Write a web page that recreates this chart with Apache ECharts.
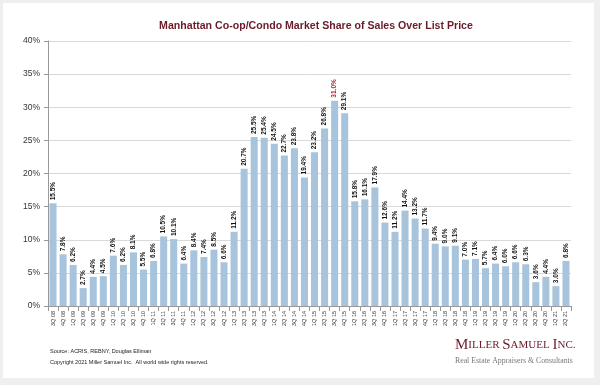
<!DOCTYPE html>
<html><head><meta charset="utf-8">
<script src="https://cdn.jsdelivr.net/npm/echarts@6/dist/echarts.min.js"></script>
<style>html,body{margin:0;padding:0;background:#efefef}#c{width:600px;height:385px}</style>
</head><body><div id="c"></div>
<script>
const categories = ["3Q 08","4Q 08","1Q 09","2Q 09","3Q 09","4Q 09","1Q 10","2Q 10","3Q 10","4Q 10","1Q 11","2Q 11","3Q 11","4Q 11","1Q 12","2Q 12","3Q 12","4Q 12","1Q 13","2Q 13","3Q 13","4Q 13","1Q 14","2Q 14","3Q 14","4Q 14","1Q 15","2Q 15","3Q 15","4Q 15","1Q 16","2Q 16","3Q 16","4Q 16","1Q 17","2Q 17","3Q 17","4Q 17","1Q 18","2Q 18","3Q 18","4Q 18","1Q 19","2Q 19","3Q 19","4Q 19","1Q 20","2Q 20","3Q 20","4Q 20","1Q 21","2Q 21"];
const shareOverList = [15.5,7.8,6.2,2.7,4.4,4.5,7.6,6.2,8.1,5.5,6.8,10.5,10.1,6.4,8.4,7.4,8.5,6.6,11.2,20.7,25.5,25.4,24.5,22.7,23.8,19.4,23.2,26.8,31.0,29.1,15.8,16.1,17.9,12.6,11.2,14.4,13.2,11.7,9.4,9.0,9.1,7.0,7.1,5.7,6.4,6.0,6.6,6.3,3.6,4.4,3.0,6.8];
const highlightIndex = shareOverList.indexOf(Math.max(...shareOverList));

const chart = echarts.init(document.getElementById('c'));
chart.setOption({
  backgroundColor: '#efefef',
  animation: false,
  graphic: [
    {type:'rect', shape:{x:3,y:3,width:591,height:375}, style:{fill:'#ffffff'}, z:-10},
    {type:'text', left:50, top:348, style:{text:'Source: ACRIS, REBNY, Douglas Elliman', font:'5.5px Arial', fill:'#222'}},
    {type:'text', left:50, top:359, style:{text:'Copyright 2021 Miller Samuel Inc.  All world wide rights reserved.', font:'5.5px Arial', fill:'#222'}},
    {type:'text', left:455, top:338, style:{rich:{a:{font:'15px "Liberation Serif", serif', fill:'#6b1c2c'},b:{font:'11px "Liberation Serif", serif', fill:'#6b1c2c'}}, text:'{a|M}{b|ILLER }{a|S}{b|AMUEL }{a|I}{b|NC.}'}},
    {type:'text', left:455, top:357, style:{text:'Real Estate Appraisers & Consultants', font:'7.8px "Liberation Serif", serif', fill:'#777'}}
  ],
  title: {
    text: 'Manhattan Co-op/Condo Market Share of Sales Over List Price',
    left: 311, textAlign: 'center', top: 16,
    textStyle: {fontFamily:'Arial', fontSize: 10.6, fontWeight:'bold', color:'#6b1a2a'}
  },
  grid: {left: 48, right: 29, top: 41, bottom: 79},
  xAxis: {
    type: 'category', data: categories,
    axisLine: {lineStyle:{color:'#999'}},
    axisTick: {show:true, alignWithLabel:false, lineStyle:{color:'#999'}},
    axisLabel: {rotate: 90, fontSize: 5.5, color:'#333', fontFamily:'Arial', interval:0, margin:5}
  },
  yAxis: {
    type: 'value', min: 0, max: 40, interval: 5,
    axisLine: {show:true, lineStyle:{color:'#999'}},
    axisTick: {show:true, length:4, lineStyle:{color:'#999'}},
    splitLine: {lineStyle:{color:'#d9d9d9'}},
    axisLabel: {formatter: '{value}%', fontSize: 8.5, color:'#333', fontFamily:'Arial', margin:8}
  },
  series: [{
    type: 'bar',
    data: shareOverList.map((v,i)=> i===highlightIndex ? {value:v, label:{color:'#b0202a'}} : v),
    barCategoryGap: '30%',
    itemStyle: {color: '#a8c4dc'},
    label: {
      show: true, position: 'top', rotate: 90, align: 'left', verticalAlign: 'middle',
      distance: 3, fontSize: 6.5, fontWeight: 'bold', fontFamily:'Arial', color:'#111',
      formatter: p => p.value.toFixed(1) + '%'
    }
  }]
});
</script></body></html>
